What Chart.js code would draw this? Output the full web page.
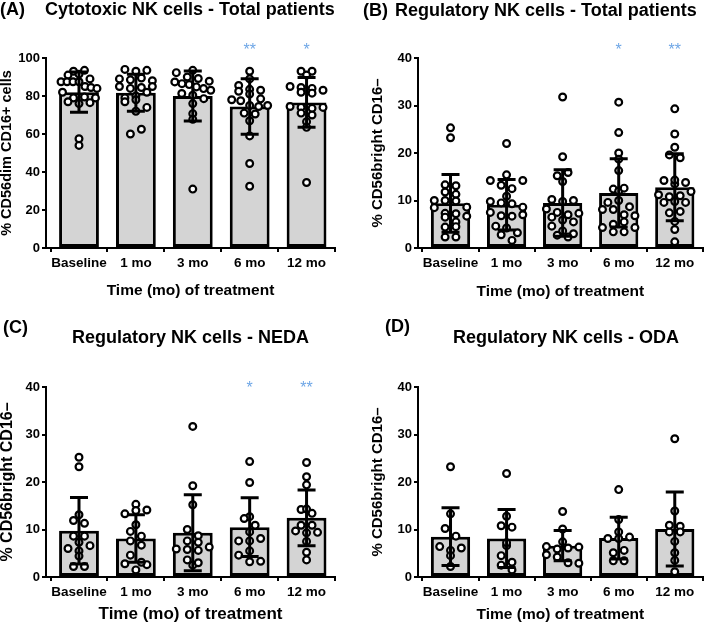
<!DOCTYPE html>
<html>
<head>
<meta charset="utf-8">
<script src="https://cdn.jsdelivr.net/npm/chart.js@4.4.0/dist/chart.umd.min.js"></script>
<style>
  body { margin: 0; background: #fff; }
  #fig { position: relative; width: 709px; height: 625px; overflow: hidden;
         font-family: "Liberation Sans", Arial, sans-serif; font-weight: bold; color: #000; }
  #fig canvas { position: absolute; }
  .t { position: absolute; font-size: 18px; line-height: 20px; white-space: nowrap; }
</style>
</head>
<body>
<div id="fig">
  <canvas id="cA" width="354" height="310" style="left:0;top:0"></canvas>
  <canvas id="cB" width="355" height="310" style="left:354px;top:0"></canvas>
  <canvas id="cC" width="354" height="313" style="left:0;top:312px"></canvas>
  <canvas id="cD" width="355" height="313" style="left:354px;top:312px"></canvas>
  <div class="t" style="left:0;top:-1px">(A)</div>
  <div class="t" style="left:45px;top:-1px">Cytotoxic NK cells - Total patients</div>
  <div class="t" style="left:363px;top:0">(B)</div>
  <div class="t" style="left:395px;top:0">Regulatory NK cells - Total patients</div>
  <div class="t" style="left:3px;top:317px">(C)</div>
  <div class="t" style="left:72px;top:327px">Regulatory NK cells - NEDA</div>
  <div class="t" style="left:385px;top:316px">(D)</div>
  <div class="t" style="left:453px;top:327px">Regulatory NK cells - ODA</div>
</div>
<script>
const categories = ['Baseline', '1 mo', '3 mo', '6 mo', '12 mo'];

// (A) cytotoxic, total patients
const meanA = [82, 81.7, 80, 74.5, 76.6];
const sdA = [10.6, 9.7, 13.2, 14.6, 13.1];
const starsA = ['', '', '', '**', '*'];
const ptsA = [
  [93, 91, 91.5, 93.5, 87.5, 87.5, 89, 87.5, 87.5, 85, 84.5, 84, 82, 79, 79.5, 79, 77, 76, 76.5, 54, 57.5],
  [94, 93, 93.5, 89, 88.5, 89.5, 88, 85, 84, 84.5, 85, 79, 77, 80, 78, 74, 72, 60, 62.5, 82],
  [93.5, 92.3, 90, 89.2, 87.8, 87.4, 86.5, 86, 84.8, 83.9, 83, 81.3, 80.4, 78.6, 76, 70.7, 67.7, 31],
  [93, 89, 85.5, 83.5, 82.5, 83, 81, 78, 78.5, 77.5, 75, 74.5, 75, 71, 70.5, 67, 59, 44.5, 32.5],
  [93, 93, 91, 85, 84.5, 84, 83, 82, 81.5, 74.5, 74, 73.5, 74, 71, 70, 66.5, 63.5, 34.5]
];

// (B) regulatory, total patients
const meanB = [9.4, 9.1, 9.5, 11.6, 12.8];
const sdB = [6.1, 5.3, 7.0, 7.2, 7.05];
const starsB = ['', '', '', '*', '**'];
const ptsB = [
  [23.2, 25.3, 13.3, 11.8, 11.3, 13.1, 10, 10, 9.9, 8.6, 8.5, 7.3, 7.2, 6.7, 6.5, 5.5, 4.4, 4.5, 2.3, 2.3],
  [22, 14.2, 15.4, 13.2, 12.5, 14.2, 9.8, 10.9, 9.5, 9.3, 8.6, 7.5, 6.8, 6.7, 4.6, 7, 4.2, 2.8, 1.6, 3.2],
  [31.8, 19.2, 15.2, 15.9, 14, 10.2, 9.8, 10, 8.2, 7.5, 7, 6.5, 7.3, 5.9, 5.5, 4.6, 3.6, 3, 2.7, 2.3],
  [30.7, 24.3, 20, 18.7, 16.3, 12.4, 12, 12.6, 9.6, 10, 8.1, 8.7, 8.1, 7, 6.8, 5, 5.5, 4.3, 3.4, 3.4, 4.3],
  [29.3, 24, 21.2, 19.6, 19, 14.2, 13.5, 13.8, 14.3, 11.2, 10.8, 11, 11.9, 9.6, 9.8, 9.6, 7.4, 7.7, 5.6, 3.9, 1.3]
];

// (C) regulatory, NEDA
const meanC = [9.75, 8.1, 9.3, 10.5, 12.45];
const sdC = [7.0, 5.0, 8.0, 6.2, 5.85];
const starsC = ['', '', '', '*', '**'];
const ptsC = [
  [23.2, 25.2, 11.9, 11.3, 13.1, 8.6, 8.6, 7.3, 6, 5.5, 6.6, 4.4, 2.2, 2.2],
  [15.3, 13.3, 14, 14.1, 11, 9.6, 8.6, 7.6, 6.7, 4.6, 2.8, 1.5, 2.6, 3.1],
  [31.7, 19.2, 15.2, 10, 8.7, 7.6, 7.3, 5.9, 5.8, 5.6, 6.3, 3.6, 2.5, 3],
  [24.3, 19.9, 12.7, 12.3, 10.9, 9.5, 7.6, 7.6, 8.1, 4.6, 5.5, 3.2, 3.3],
  [24.1, 21.1, 19.4, 14.2, 14.3, 13.4, 10.9, 10.9, 9.7, 9.3, 9.4, 7.5, 5.2, 3.6]
];

// (D) regulatory, ODA
const meanD = [8.5, 8.1, 6.6, 8.2, 10.1];
const sdD = [6.1, 6.1, 3.2, 4.4, 7.8];
const starsD = ['', '', '', '', ''];
const ptsD = [
  [23.2, 13.3, 10.2, 8.6, 6.4, 5.6, 4.5, 6.1, 2.2],
  [21.8, 12.8, 10.8, 10.5, 6.6, 7.2, 4.5, 3.1, 2.5, 1.5],
  [13.8, 10.1, 7.4, 6.4, 5.9, 6.1, 6.3, 4.7, 4.2, 3, 2.9],
  [18.4, 12.1, 9.5, 8.1, 8.1, 8.4, 5.1, 5.6, 3.4, 3.4],
  [29.1, 13.9, 9.5, 10.9, 10.7, 9.5, 7.5, 5.1, 3.5, 1.1]
];

const yTitleDim = '% CD56dim CD16+ cells';
const yTitleBright = '% CD56bright CD16\u2013';
const xTitle = 'Time (mo) of treatment';

Chart.defaults.font.family = '"Liberation Sans", Arial, sans-serif';
Chart.defaults.color = '#000';

const PX_PER_CAT = 57;

// GraphPad-like scatter: points of similar value share a row, spread evenly
function rowSpread(values, pxPerUnit, binPx, gap, halfMax) {
  const bins = new Map();
  values.forEach((v, i) => {
    const b = Math.round(v * pxPerUnit / binPx);
    if (!bins.has(b)) bins.set(b, []);
    bins.get(b).push(i);
  });
  const offs = new Array(values.length).fill(0);
  bins.forEach(idx => {
    const n = idx.length;
    const step = n > 1 ? Math.min(gap, 2 * halfMax / (n - 1)) : 0;
    idx.forEach((i, k) => { offs[i] = (k - (n - 1) / 2) * step; });
  });
  return offs;
}

function meanSd(mean, sd, stars, starLevel) {
  return {
    id: 'meanSd',
    afterDatasetsDraw(chart) {
      const { ctx, scales: { x, y } } = chart;
      ctx.save();
      ctx.strokeStyle = '#000';
      ctx.lineWidth = 3;
      mean.forEach((m, i) => {
        const px = x.getPixelForValue(i);
        const top = y.getPixelForValue(m + sd[i]);
        const bot = y.getPixelForValue(m - sd[i]);
        ctx.beginPath();
        ctx.moveTo(px, top); ctx.lineTo(px, bot);
        ctx.moveTo(px - 9, top); ctx.lineTo(px + 9, top);
        ctx.moveTo(px - 9, bot); ctx.lineTo(px + 9, bot);
        ctx.stroke();
      });
      ctx.fillStyle = '#6ea6e6';
      ctx.font = '16px "Liberation Sans", Arial, sans-serif';
      ctx.textAlign = 'center';
      ctx.textBaseline = 'middle';
      stars.forEach((s, i) => {
        if (s) ctx.fillText(s, x.getPixelForValue(i), y.getPixelForValue(starLevel) + 4);
      });
      ctx.restore();
    }
  };
}

function panel(id, lay, mean, sd, pts, stars, yMax, yStep, starLevel, yTitle) {
  const pxY = (lay.b - lay.t) / yMax;
  const dots = [];
  pts.forEach((vals, i) => {
    const offs = rowSpread(vals, pxY, 9, 11, 18);
    vals.forEach((v, k) => dots.push({ x: i + offs[k] / PX_PER_CAT, y: v }));
  });

  return new Chart(document.getElementById(id), {
    type: 'bar',
    data: {
      datasets: [
        {
          type: 'scatter',
          data: dots,
          pointRadius: 3.4,
          pointBorderWidth: 2.2,
          pointBackgroundColor: '#fff',
          pointBorderColor: '#000',
          order: 1
        },
        {
          type: 'bar',
          data: mean.map((m, i) => ({ x: i, y: m })),
          backgroundColor: '#d4d4d4',
          borderColor: '#000',
          borderWidth: 3,
          borderSkipped: false,
          categoryPercentage: 1,
          barPercentage: 0.7,
          order: 2
        }
      ]
    },
    options: {
      responsive: false,
      animation: false,
      events: [],
      devicePixelRatio: 1,
      layout: { padding: { left: lay.padL, top: lay.t, right: lay.w - lay.r, bottom: 0 } },
      plugins: { legend: { display: false }, tooltip: { enabled: false } },
      scales: {
        x: {
          type: 'linear',
          min: -0.58,
          max: 4.5,
          bounds: 'data',
          offset: false,
          afterBuildTicks: s => { s.ticks = categories.map((c, i) => ({ value: i })); },
          afterFit: s => { s.height = lay.h - lay.b; },
          ticks: {
            callback: v => categories[v],
            autoSkip: false,
            maxRotation: 0,
            padding: 3,
            font: { size: 13.5, weight: 'bold' }
          },
          grid: { drawOnChartArea: false, drawTicks: true, tickLength: 4, lineWidth: 2, color: '#000' },
          border: { display: true, color: '#000', width: 2 },
          title: {
            display: true, text: xTitle,
            font: { size: lay.xts, weight: 'bold' },
            padding: { top: 0, bottom: lay.xtp }
          }
        },
        y: {
          min: 0,
          max: yMax,
          afterFit: s => { s.width = lay.l - lay.padL; },
          ticks: { stepSize: yStep, padding: 2, font: { size: 13, weight: 'bold' } },
          grid: { drawOnChartArea: false, drawTicks: true, tickLength: 4, lineWidth: 2, color: '#000' },
          border: { display: true, color: '#000', width: 2 },
          title: {
            display: true, text: yTitle,
            font: { size: lay.yts, weight: 'bold' },
            padding: { top: lay.ytp, bottom: 0 }
          }
        }
      }
    },
    plugins: [meanSd(mean, sd, stars, starLevel)]
  });
}

panel('cA', { w: 354, h: 310, l: 46, t: 58, r: 335, b: 248, padL: 0, xts: 15.5, xtp: 10, yts: 14.5, ytp: -2 },
  meanA, sdA, ptsA, starsA, 100, 20, 106, yTitleDim);
panel('cB', { w: 355, h: 310, l: 64, t: 58, r: 354, b: 248, padL: 15, xts: 15.5, xtp: 9, yts: 15, ytp: 0 },
  meanB, sdB, ptsB, starsB, 40, 10, 42.3, yTitleBright);
panel('cC', { w: 354, h: 313, l: 46, t: 75, r: 335, b: 265, padL: 0, xts: 17, xtp: 0, yts: 16, ytp: -2 },
  meanC, sdC, ptsC, starsC, 40, 10, 40.6, yTitleBright);
panel('cD', { w: 355, h: 313, l: 64, t: 75, r: 354, b: 265, padL: 15, xts: 15.5, xtp: 1, yts: 15, ytp: 0 },
  meanD, sdD, ptsD, starsD, 40, 10, 0, yTitleBright);
</script>
</body>
</html>
